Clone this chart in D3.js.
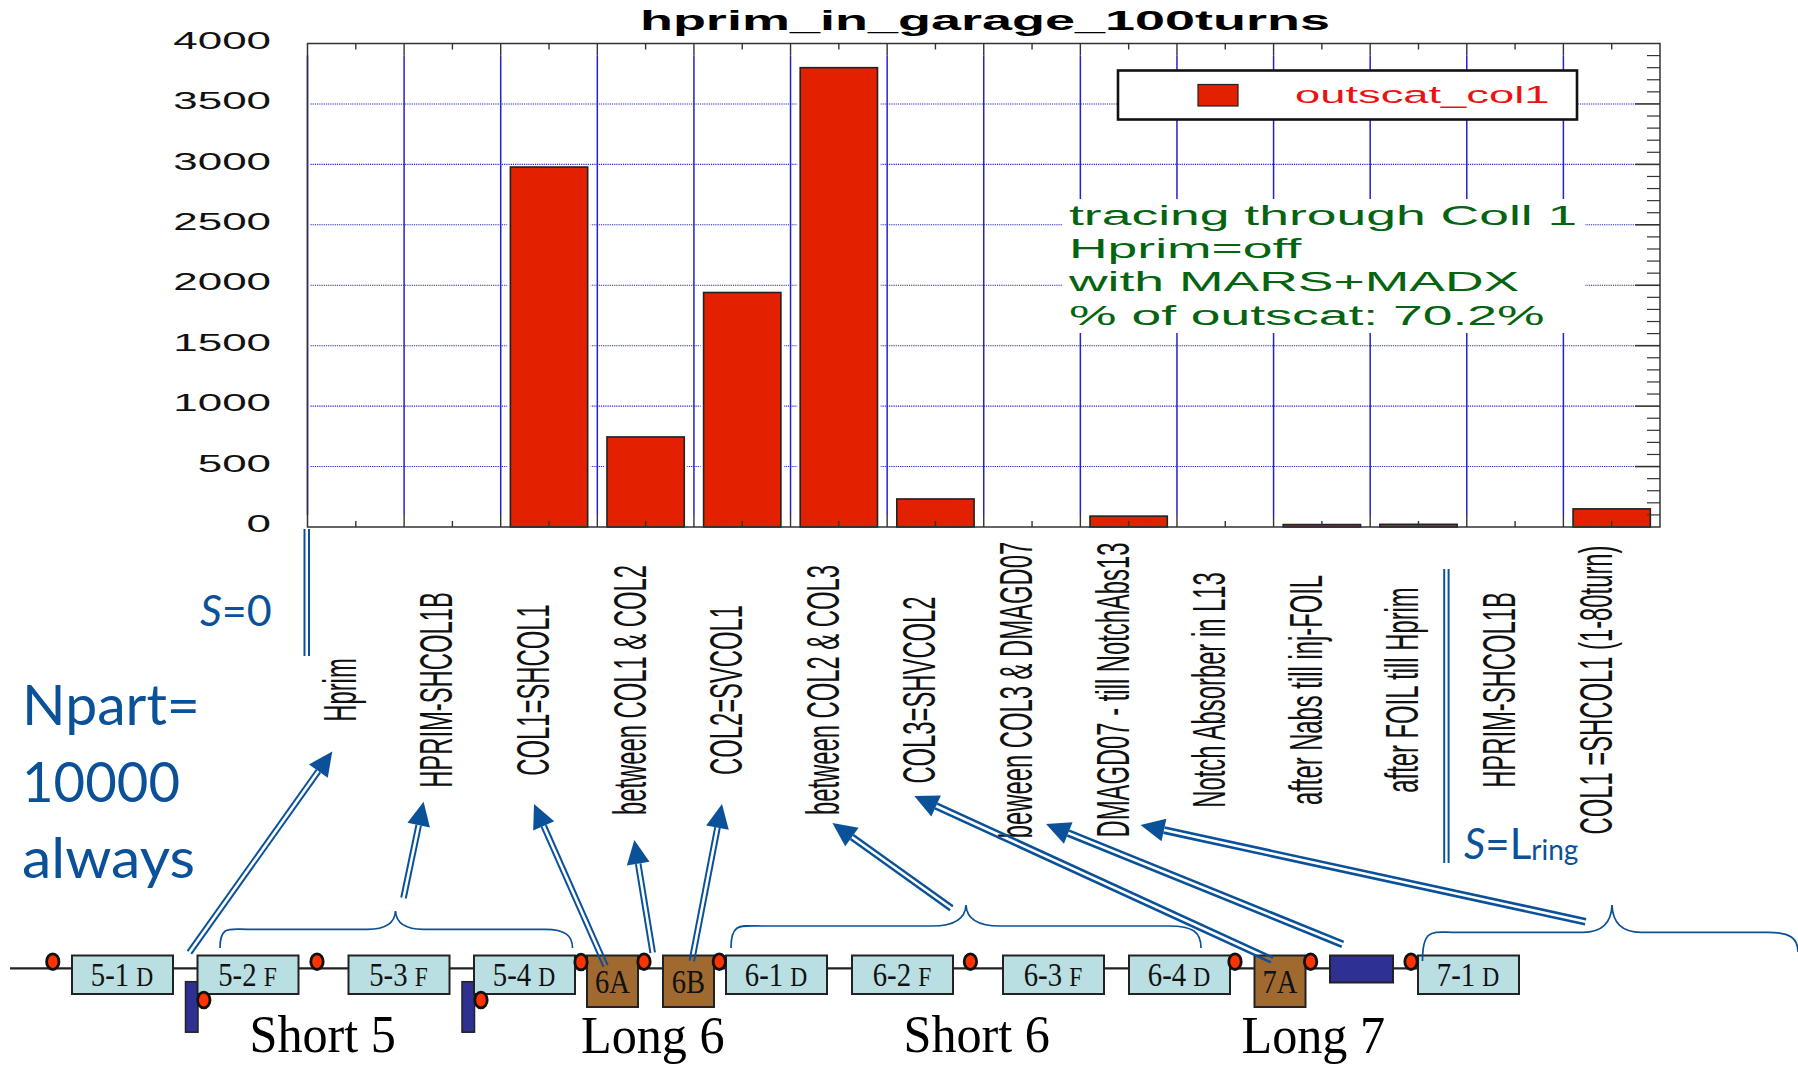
<!DOCTYPE html>
<html><head><meta charset="utf-8">
<style>html,body{margin:0;padding:0;background:#fff;overflow:hidden}svg{display:block}</style>
<script src="https://cdnjs.cloudflare.com/ajax/libs/d3/7.8.5/d3.min.js"></script>
</head><body>
<svg id="c" width="1798" height="1065"></svg>
<script>
const categories = ["Hprim","HPRIM-SHCOL1B","COL1=SHCOL1","between COL1 & COL2","COL2=SVCOL1","between COL2 & COL3","COL3=SHVCOL2","beween COL3 & DMAGD07","DMAGD07 - till NotchAbs13","Notch Absorber in L13","after Nabs till inj-FOIL","after FOIL till Hprim","HPRIM-SHCOL1B","COL1 =SHCOL1 (1-80turn)"];
const seriesValues = [0,0,2978,745,1940,3800,232,0,90,0,20,22,0,150];
const seriesName = "outscat_col1";
const chartTitle = "hprim_in_garage_100turns";
const yTickValues = [0,500,1000,1500,2000,2500,3000,3500,4000];
const noteLines = ["tracing through Coll 1","Hprim=off","with MARS+MADX","% of outscat: 70.2%"];
const nPartLines = ["Npart=","10000","always"];

const BLUE="#0a5199", GRID="#2222cc", RED="#e32000", GREEN="#04640f";
const svg=d3.select("#c");
const SANS="'Liberation Sans',Arial,sans-serif", SERIF="'Liberation Serif',serif", CAL="Lato,sans-serif";
const L=307.5,R=1660,T=43.5,B=527;
const idx=d3.range(categories.length);
const x=d3.scaleBand().domain(idx).range([L,R]).paddingInner(0.2).paddingOuter(0.1);
const y=d3.scaleLinear().domain([0,4000]).range([B,T]);
const step=x.step(), cx=i=>x(i)+x.bandwidth()/2;

// grid
const grid=svg.append("g");
const edges=idx.map(i=>cx(i)-step/2);
grid.selectAll("line.h").data(yTickValues.slice(1,-1)).join("line").attr("class","h")
  .attr("x1",L+3).attr("x2",R-25).attr("y1",d=>y(d)).attr("y2",d=>y(d))
  .attr("stroke",GRID).attr("stroke-width",1.1).attr("stroke-dasharray","1.2 1");
grid.selectAll("line.v").data(edges).join("line").attr("class","v")
  .attr("x1",d=>d).attr("x2",d=>d).attr("y1",T+12).attr("y2",B-12)
  .attr("stroke",GRID).attr("stroke-width",1.5);

// note mask
svg.append("rect").attr("x",1063).attr("y",199).attr("width",522).attr("height",134).attr("fill","#fff");

// bars
const barData=idx.map(i=>({i,v:seriesValues[i]})).filter(d=>d.v>0);
const bars=svg.append("g");
bars.selectAll("rect.halo").data(barData).join("rect").attr("class","halo")
  .attr("x",d=>x(d.i)-3).attr("width",x.bandwidth()+6)
  .attr("y",d=>y(d.v)-2).attr("height",d=>B-y(d.v)+2).attr("fill","#fff");
bars.selectAll("rect.bar").data(barData).join("rect").attr("class","bar")
  .attr("x",d=>x(d.i)).attr("width",x.bandwidth()).attr("y",d=>y(d.v)).attr("height",d=>B-y(d.v))
  .attr("fill",RED).attr("stroke","#222").attr("stroke-width",1.6);

// frame + ticks
const fr=svg.append("g").attr("stroke","#333").attr("fill","none");
fr.append("rect").attr("x",L).attr("y",T).attr("width",R-L).attr("height",B-T).attr("stroke-width",1.5);
const tk=(data,x1,x2,y1,y2,w)=>fr.append("g").selectAll("line").data(data).join("line")
  .attr("x1",x1).attr("x2",x2).attr("y1",y1).attr("y2",y2).attr("stroke-width",w||1.4);
tk(edges.slice(1),d=>d,d=>d,T,T+12); tk(edges.slice(1),d=>d,d=>d,B-12,B);
tk(idx,d=>cx(d),d=>cx(d),T,T+6); tk(idx,d=>cx(d),d=>cx(d),B-6,B);
tk(yTickValues.slice(1,-1),R-25,R,d=>y(d),d=>y(d),1.6);
tk(d3.range(100,4000,100).filter(d=>d%500),R-13,R,d=>y(d),d=>y(d),1.2);

// y axis labels
const ya=svg.append("g").attr("transform",`translate(271,0)`).call(d3.axisLeft(y).tickValues(yTickValues).tickSize(0).tickFormat(d3.format("d")));
ya.select(".domain").remove();
ya.selectAll("text").attr("x",0).attr("y",-4).attr("dy","0.36em").attr("text-anchor","end")
  .attr("transform","scale(1.83,1)").attr("font-family",SANS).attr("font-size",24).attr("fill","#111");

// x axis labels
const xa=svg.append("g").attr("transform",`translate(0,690)`).call(d3.axisBottom(x).tickSize(0).tickFormat(i=>categories[i]));
xa.select(".domain").remove();
xa.selectAll("text").attr("x",0).attr("y",0).attr("dy",0).attr("text-anchor","middle")
  .attr("transform","scale(1.95,1) rotate(-90)").attr("font-family",SANS).attr("font-size",23.8).attr("fill","#111");

// helper for stretched text
function st(t,px,py,sx,size,opt={}){
  return svg.append("text").text(t).attr("transform",`translate(${px},${py}) scale(${sx},1)`)
   .attr("font-family",opt.font||SANS).attr("font-size",size).attr("fill",opt.fill||"#111")
   .attr("font-weight",opt.weight||"normal").attr("text-anchor",opt.anchor||"start");
}
st(chartTitle,985,30,2.0,27,{weight:"bold",anchor:"middle",fill:"#000"});

// legend
svg.append("rect").attr("x",1118).attr("y",70.5).attr("width",459).attr("height",49).attr("fill","#fff").attr("stroke","#111").attr("stroke-width",2.6);
svg.append("rect").attr("x",1198).attr("y",84.5).attr("width",40).attr("height",21.5).attr("fill",RED).attr("stroke","#222").attr("stroke-width",1.2);
st(seriesName,1295,103,1.85,24.5,{fill:"#ee1111"});

// note
const noteY=[224.5,258,291,324.5];
noteLines.forEach((t,i)=>st(t,1069,noteY[i],1.945,27.5,{fill:GREEN}));

// left texts
const npY=[725,802,878], npW=[178,158,173];
nPartLines.forEach((t,i)=>svg.append("text").text(t).attr("x",22).attr("y",npY[i]).attr("font-family",CAL).attr("font-size",56).attr("fill",BLUE).attr("textLength",npW[i]).attr("lengthAdjust","spacingAndGlyphs"));
const s0=svg.append("text").attr("x",200).attr("y",626).attr("font-family",CAL).attr("font-size",43).attr("fill",BLUE);
s0.append("tspan").attr("font-style","italic").text("S"); s0.append("tspan").text("=0");
const sl=svg.append("text").attr("x",1464).attr("y",859).attr("font-family",CAL).attr("font-size",42).attr("fill",BLUE);
sl.append("tspan").attr("font-style","italic").text("S"); sl.append("tspan").text("=L");
sl.append("tspan").attr("font-size",28).attr("dy",1).text("ring");

// double verticals
[[304.5,529,656],[309,529,656],[1444.2,569,863],[1448.6,569,863]].forEach(d=>
  svg.append("line").attr("x1",d[0]).attr("x2",d[0]).attr("y1",d[1]).attr("y2",d[2]).attr("stroke",BLUE).attr("stroke-width",2));

// lattice
const lat=svg.append("g");
lat.append("line").attr("x1",10).attr("x2",1420).attr("y1",968.3).attr("y2",968.3).attr("stroke","#222").attr("stroke-width",2.2);
const quads=[["5-1","D",72],["5-2","F",197.5],["5-3","F",348.5],["5-4","D",474],["6-1","D",726],["6-2","F",852],["6-3","F",1003],["6-4","D",1129],["7-1","D",1418]];
const longs=[["6A",587],["6B",663],["7A",1254.5]];
const sideBlocks=[[185.5,981.7],[462,981.7]];
lat.selectAll("rect.side").data(sideBlocks).join("rect").attr("class","side").attr("x",d=>d[0]).attr("y",d=>d[1]).attr("width",12.5).attr("height",50.5).attr("fill","#2e3192").attr("stroke","#222").attr("stroke-width",1.5);
lat.append("rect").attr("x",1330).attr("y",955.5).attr("width",63).attr("height",27).attr("fill","#2e3192").attr("stroke","#222").attr("stroke-width",2);
quads.forEach(q=>{
  lat.append("rect").attr("x",q[2]).attr("y",955.5).attr("width",101).attr("height",38.5).attr("fill","#b9dfe2").attr("stroke","#222").attr("stroke-width",2);
  const t=lat.append("text").attr("transform",`translate(${q[2]+50},986) scale(0.87,1)`).attr("text-anchor","middle").attr("font-family",SERIF).attr("fill","#111");
  t.append("tspan").attr("font-size",33).text(q[0]+" ");
  t.append("tspan").attr("font-size",27).text(q[1]);
});
longs.forEach(q=>{
  lat.append("rect").attr("x",q[1]).attr("y",955.5).attr("width",51).attr("height",51.5).attr("fill","#a0692f").attr("stroke","#222").attr("stroke-width",2);
  lat.append("text").attr("transform",`translate(${q[1]+25.5},992.5) scale(0.84,1)`).attr("text-anchor","middle").attr("font-family",SERIF).attr("font-size",34).attr("fill","#111").text(q[0]);
});
const dots=[[52.8,961.7],[317,961.7],[581,962],[644,961.7],[719.3,961.7],[203.8,1000],[481,1000],[970.4,961.7],[1235,961.7],[1310.6,961.7],[1411,961.7]];
lat.selectAll("ellipse").data(dots).join("ellipse").attr("cx",d=>d[0]).attr("cy",d=>d[1]).attr("rx",6.2).attr("ry",7.8).attr("fill","#ff3300").attr("stroke","#111").attr("stroke-width",2.8);
[["Short 5",249.5,1051.5],["Long 6",581,1053],["Short 6",903.5,1051.5],["Long 7",1241.5,1053]].forEach(d=>
  lat.append("text").attr("transform",`translate(${d[1]},${d[2]}) scale(0.965,1)`).attr("font-family",SERIF).attr("font-size",52).attr("fill","#000").text(d[0]));

// braces
function brace(o){
  const p=d3.path();
  p.moveTo(o.x0,o.y0);
  p.bezierCurveTo(o.x0,o.yF-4,o.x0+10,o.yF,o.x0+o.r,o.yF);
  p.lineTo(o.xc-o.r2,o.yF);
  p.quadraticCurveTo(o.xc-1,o.yF,o.xc,o.yP);
  p.quadraticCurveTo(o.xc+1,o.yF,o.xc+o.r2,o.yF);
  p.lineTo(o.x1-o.r,o.yF);
  p.bezierCurveTo(o.x1-8,o.yF,o.x1,o.yF+6,o.x1,o.y1);
  return p.toString();
}
[{x0:220,y0:948,x1:572.5,y1:948,xc:395.5,yF:929.3,yP:911,r:27,r2:28},
 {x0:731,y0:948,x1:1201,y1:948,xc:966,yF:926,yP:905,r:32,r2:34},
 {x0:1422.5,y0:961,x1:1798,y1:952,xc:1612,yF:932.3,yP:905,r:30,r2:29}].forEach(o=>
  svg.append("path").attr("d",brace(o)).attr("fill","none").attr("stroke",BLUE).attr("stroke-width",1.7));

// arrows
const arrows=[[189.4,952.5,332.3,751.5,2],[403.5,898,423.6,801.7,2],[605.6,966,534,804,2],[652.7,952.7,634.3,840,2],[691.8,961,722,804,2],[951.5,908.3,832.4,823,2.3],[1272,960,914.3,796,2.6],[1342.7,944.3,1046,824,2.6],[1585.6,921.7,1140.5,825,2.6]];
arrows.forEach(([x0,y0,x1,y1,w])=>{
  const d=Math.hypot(x1-x0,y1-y0),ux=(x1-x0)/d,uy=(y1-y0)/d,nx=-uy,ny=ux,hl=24,hw=11.5,off=2.3+(w-2)/2;
  const bx=x1-ux*hl,by=y1-uy*hl;
  [-off,off].forEach(o=>svg.append("line").attr("x1",x0+nx*o).attr("y1",y0+ny*o).attr("x2",bx+nx*o).attr("y2",by+ny*o).attr("stroke",BLUE).attr("stroke-width",w));
  svg.append("polygon").attr("points",[[x1,y1],[bx+nx*hw,by+ny*hw],[bx-nx*hw,by-ny*hw]].map(p=>p.join(",")).join(" ")).attr("fill",BLUE);
});
</script>
</body></html>
